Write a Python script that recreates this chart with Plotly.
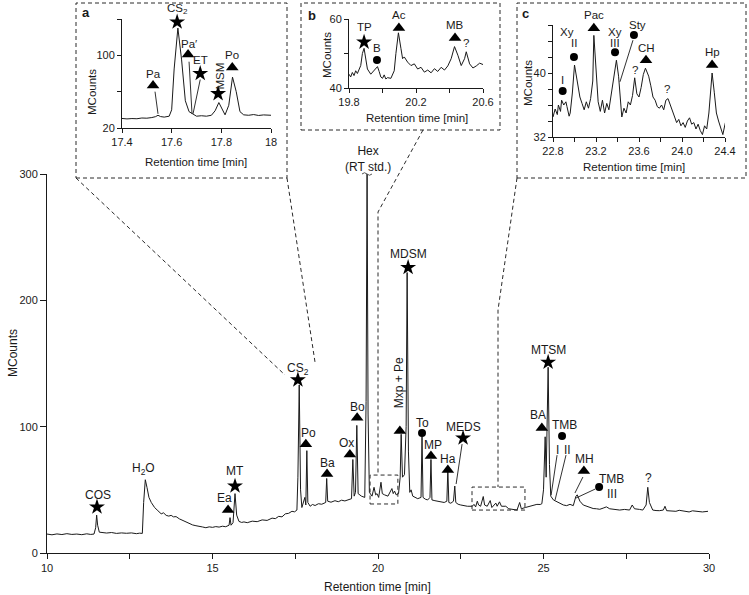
import plotly.graph_objects as go

W, H = 749, 595
FONT = "Liberation Sans, Arial, Helvetica, sans-serif"
INK = "#1a1a1a"

# ---------------- data ----------------
main_time = [
    10.00, 10.15, 10.30, 10.45, 10.60, 10.75, 10.90, 11.05, 11.20, 11.32,
    11.42, 11.47, 11.50, 11.53, 11.58, 11.70, 11.80, 11.95, 12.10, 12.25,
    12.40, 12.55, 12.70, 12.80, 12.88, 12.92, 12.97, 13.02, 13.08, 13.15,
    13.25, 13.35, 13.45, 13.52, 13.60, 13.68, 13.75, 13.82, 13.90, 14.00,
    14.10, 14.20, 14.30, 14.40, 14.50, 14.60, 14.70, 14.80, 14.90, 15.00,
    15.10, 15.20, 15.30, 15.40, 15.50, 15.53, 15.56, 15.62, 15.68, 15.73,
    15.80, 15.88, 15.95, 16.05, 16.20, 16.35, 16.50, 16.65, 16.80, 16.90,
    17.00, 17.10, 17.20, 17.30, 17.40, 17.48, 17.55, 17.58, 17.62, 17.66,
    17.70, 17.79, 17.82, 17.85, 17.88, 17.95, 18.02, 18.10, 18.20, 18.30,
    18.42, 18.45, 18.48, 18.58, 18.70, 18.80, 18.90, 19.00, 19.10, 19.20,
    19.24, 19.28, 19.32, 19.36, 19.40, 19.50, 19.60, 19.64, 19.67, 19.70,
    19.74, 19.82, 19.88, 19.93, 19.97, 20.02, 20.09, 20.13, 20.20, 20.30,
    20.42, 20.46, 20.50, 20.55, 20.62, 20.67, 20.70, 20.74, 20.80, 20.85,
    20.88, 20.92, 20.96, 21.00, 21.05, 21.12, 21.20, 21.30, 21.33, 21.36,
    21.43, 21.50, 21.57, 21.60, 21.63, 21.72, 21.80, 21.90, 22.00, 22.08,
    22.11, 22.14, 22.20, 22.28, 22.32, 22.35, 22.42, 22.50, 22.60, 22.70,
    22.85, 22.90, 22.95, 23.00, 23.04, 23.10, 23.18, 23.22, 23.30, 23.39,
    23.44, 23.56, 23.60, 23.67, 23.73, 23.86, 23.95, 24.10, 24.20, 24.28,
    24.33, 24.45, 24.60, 24.70, 24.80, 24.90, 24.95, 25.00, 25.05, 25.08,
    25.14, 25.18, 25.22, 25.30, 25.40, 25.50, 25.60, 25.70, 25.80, 25.90,
    25.98, 26.02, 26.10, 26.20, 26.30, 26.40, 26.50, 26.60, 26.70, 26.80,
    26.90, 27.00, 27.15, 27.30, 27.45, 27.60, 27.68, 27.75, 27.90, 28.00,
    28.10, 28.15, 28.20, 28.30, 28.40, 28.50, 28.62, 28.67, 28.72, 28.85,
    29.00, 29.10, 29.20, 29.30, 29.40, 29.50, 29.60, 29.70, 29.80, 29.97]
main_signal = [
    15.0, 14.4, 15.1, 14.6, 15.3, 14.7, 15.0, 14.5, 15.2, 14.7,
    15.0, 20.0, 30.0, 22.0, 16.5, 16.3, 15.8, 16.2, 15.5, 15.9,
    15.6, 15.9, 15.3, 15.7, 15.5, 40.0, 58.0, 52.0, 44.0, 40.0,
    36.0, 33.5, 31.0, 31.8, 29.8, 29.2, 29.8, 28.6, 28.8, 27.0,
    25.8, 24.6, 23.0, 22.2, 21.6, 20.8, 20.6, 20.0, 20.7, 20.3,
    20.9, 20.5, 21.2, 20.8, 22.0, 28.0, 22.0, 24.0, 47.0, 30.0,
    25.0, 24.2, 24.6, 24.0, 25.2, 24.8, 26.2, 25.8, 27.6, 27.2,
    29.0, 28.6, 31.0, 31.4, 33.0, 32.6, 34.0, 60.0, 133.0, 50.0,
    36.0, 44.0, 38.0, 81.0, 40.0, 37.0, 38.4, 37.6, 39.0, 38.6,
    40.0, 59.0, 41.0, 40.2, 41.4, 40.6, 41.8, 41.2, 42.4, 43.0,
    74.0, 45.0, 48.0, 101.0, 47.0, 45.0, 44.0, 120.0, 300.0, 110.0,
    48.0, 45.0, 52.0, 46.0, 47.0, 44.0, 56.0, 47.0, 46.0, 45.0,
    51.0, 47.0, 49.0, 46.0, 47.0, 60.0, 94.0, 60.0, 62.0, 100.0,
    222.0, 80.0, 48.0, 50.0, 45.0, 44.2, 43.0, 44.0, 92.0, 44.0,
    42.6, 42.0, 44.0, 74.0, 42.0, 41.4, 41.0, 40.2, 40.0, 41.0,
    66.0, 40.0, 39.4, 41.0, 53.0, 40.0, 38.6, 38.0, 37.2, 37.0,
    37.0, 38.5, 36.5, 41.0, 38.0, 37.0, 44.7, 38.0, 37.0, 41.5,
    36.0, 39.5, 37.0, 40.5, 37.0, 37.0, 35.0, 34.5, 34.0, 40.0,
    35.0, 36.0, 37.0, 37.4, 38.5, 38.4, 39.0, 50.0, 92.0, 60.0,
    147.0, 70.0, 45.0, 42.0, 40.5, 39.0, 38.0, 37.5, 38.5, 37.5,
    45.0, 46.0, 41.0, 38.0, 37.0, 36.0, 35.2, 35.0, 34.6, 35.5,
    36.5, 35.0, 34.6, 34.0, 34.5, 34.0, 38.0, 35.0, 34.5, 34.0,
    38.0, 52.0, 40.0, 34.0, 33.6, 33.5, 34.0, 37.0, 33.5, 33.2,
    33.0, 33.8, 33.5, 32.8, 32.5, 33.4, 33.0, 32.6, 32.5, 33.0]

a_time = [
    17.40, 17.42, 17.44, 17.46, 17.48, 17.50, 17.52, 17.535, 17.545, 17.555,
    17.57, 17.59, 17.60, 17.61, 17.625, 17.64, 17.655, 17.67, 17.685, 17.70,
    17.72, 17.74, 17.76, 17.775, 17.79, 17.80, 17.815, 17.83, 17.845, 17.86,
    17.875, 17.89, 17.91, 17.93, 17.95, 17.97, 18.00]
a_signal = [
    30.5, 30.0, 30.4, 30.2, 31.0, 30.8, 31.5, 32.5, 34.0, 32.6,
    32.0, 33.0, 40.0, 85.0, 130.0, 95.0, 50.0, 38.0, 35.5, 33.0,
    33.5, 33.0, 34.0, 39.0, 48.0, 42.0, 34.5, 45.0, 76.0, 60.0,
    38.0, 34.5, 34.0, 34.8, 33.8, 34.4, 34.0]

b_time = [
    19.80, 19.81, 19.82, 19.83, 19.84, 19.85, 19.87, 19.88, 19.89, 19.90,
    19.91, 19.93, 19.95, 19.97, 19.98, 19.99, 20.00, 20.01, 20.02, 20.03,
    20.05, 20.07, 20.08, 20.095, 20.11, 20.12, 20.13, 20.15, 20.17, 20.19,
    20.21, 20.23, 20.25, 20.27, 20.29, 20.31, 20.33, 20.35, 20.37, 20.39,
    20.41, 20.43, 20.45, 20.47, 20.49, 20.50, 20.52, 20.54, 20.56, 20.58,
    20.60]
b_signal = [
    44.0, 43.2, 44.5, 43.6, 45.0, 44.2, 46.5, 50.0, 51.5, 48.0,
    45.5, 44.0, 45.2, 46.2, 44.8, 43.2, 42.8, 43.8, 42.6, 43.0,
    42.8, 45.0, 50.0, 56.0, 51.5, 48.5, 49.0, 47.5, 46.5, 47.0,
    45.5, 46.0, 44.6, 45.2, 44.4, 45.6, 44.8, 46.0, 45.2, 46.4,
    48.5, 52.0, 49.5, 46.5, 48.5, 50.5, 47.0, 45.8, 46.4, 47.2,
    46.8]

c_time = [
    22.80, 22.82, 22.84, 22.85, 22.87, 22.88, 22.90, 22.92, 22.93, 22.95,
    22.96, 22.98, 23.00, 23.01, 23.03, 23.05, 23.07, 23.09, 23.11, 23.13,
    23.15, 23.17, 23.18, 23.20, 23.22, 23.24, 23.26, 23.28, 23.30, 23.32,
    23.34, 23.36, 23.38, 23.39, 23.41, 23.43, 23.44, 23.46, 23.48, 23.50,
    23.52, 23.54, 23.56, 23.58, 23.60, 23.62, 23.64, 23.66, 23.67, 23.69,
    23.71, 23.73, 23.75, 23.77, 23.79, 23.81, 23.83, 23.85, 23.87, 23.89,
    23.91, 23.93, 23.95, 23.97, 23.99, 24.01, 24.03, 24.05, 24.07, 24.09,
    24.11, 24.13, 24.15, 24.17, 24.19, 24.21, 24.23, 24.25, 24.27, 24.28,
    24.30, 24.32, 24.34, 24.36, 24.38, 24.40, 24.42]
c_signal = [
    34.5, 35.5, 34.8, 36.0, 35.2, 36.6, 36.0, 36.4, 35.8, 34.6,
    35.0, 37.5, 41.0, 40.2, 38.8, 37.0, 36.2, 35.4, 36.4, 35.6,
    36.8, 39.0, 44.7, 40.0, 36.4, 35.2, 36.6, 35.0, 36.2, 35.4,
    37.2, 38.6, 41.0, 41.6, 39.6, 36.0, 34.5, 35.6, 35.0, 36.4,
    36.0, 37.2, 39.4, 37.4, 37.0, 38.2, 39.8, 40.6, 40.2, 39.6,
    38.4, 37.0, 36.6, 35.8, 35.6, 36.0, 35.4, 36.6, 36.8, 36.0,
    35.2, 34.6, 33.8, 34.2, 33.4, 33.8, 33.2, 34.0, 34.4, 33.6,
    33.8, 33.0, 33.6, 32.8, 32.3, 33.4, 33.0, 35.0, 38.5, 40.0,
    37.6, 35.0, 34.0, 33.2, 32.3, 33.6, 34.6]

# tick values / labels (major = labelled, minor = unlabelled)
main_x_ticks = [10, 15, 20, 25, 30]
main_x_minor = [12.5, 17.5, 22.5, 27.5]
main_y_ticks = [0, 100, 200, 300]
a_x_ticks = [17.4, 17.6, 17.8, 18.0]
a_x_text = ["17.4", "17.6", "17.8", "18"]
a_y_ticks = [20, 100]
a_y_minor = [60, 140]
b_x_ticks = [19.8, 20.2, 20.6]
b_x_minor = [20.0, 20.4]
b_y_ticks = [40, 60]
b_y_minor = [50]
c_x_ticks = [22.8, 23.2, 23.6, 24.0, 24.4]
c_x_text = ["22.8", "23.2", "23.6", "24.0", "24.4"]
c_x_minor = [23.0, 23.4, 23.8, 24.2]
c_y_ticks = [32, 40]
c_y_minor = [34, 36, 38, 42, 44, 46]

# peak markers: (symbol, time, level)
main_marks = [
    ("star", 11.51, 36.4), ("star", 15.68, 53), ("star", 17.58, 137),
    ("star", 20.91, 226), ("star", 22.57, 91), ("star", 25.14, 151),
    ("triangle-up", 15.47, 34), ("triangle-up", 17.82, 86), ("triangle-up", 18.46, 62.5),
    ("triangle-up", 19.15, 78), ("triangle-up", 19.37, 107), ("triangle-up", 20.66, 96.5),
    ("triangle-up", 21.60, 76.7), ("triangle-up", 22.11, 65.7), ("triangle-up", 24.95, 99),
    ("triangle-up", 26.22, 64.9),
    ("circle", 21.33, 95), ("circle", 25.56, 92.6), ("circle", 26.68, 52.2)]
a_marks = [
    ("star", 17.622, 136.7), ("star", 17.715, 80), ("star", 17.787, 57.8),
    ("triangle-up", 17.666, 101), ("triangle-up", 17.844, 86.7), ("triangle-up", 17.525, 66.7)]
b_marks = [
    ("star", 19.89, 53.3), ("circle", 19.967, 48.1),
    ("triangle-up", 20.098, 57.4), ("triangle-up", 20.433, 54.5)]
c_marks = [
    ("triangle-up", 23.18, 45.6), ("triangle-up", 23.665, 41.6), ("triangle-up", 24.28, 41.0),
    ("circle", 22.995, 42.0), ("circle", 22.89, 37.75), ("circle", 23.377, 42.6),
    ("circle", 23.553, 44.75)]

# text labels: (text, time, level)
main_labels = [
    ("COS", 11.53, 45.9), ("H<sub>2</sub>O", 12.93, 66.5), ("Ea", 15.35, 43.5),
    ("MT", 15.68, 65), ("CS<sub>2</sub>", 17.58, 145.6), ("Po", 17.89, 95),
    ("Ba", 18.46, 71.2), ("Ox", 19.06, 87), ("Bo", 19.37, 115.5),
    ("Hex<br>(RT std.)", 19.70, 311.5), ("MDSM", 20.91, 237),
    ("To", 21.33, 103), ("MP", 21.66, 85.4), ("Ha", 22.11, 74.4),
    ("MEDS", 22.57, 99.7), ("BA", 24.83, 109), ("MTSM", 25.14, 160.6),
    ("TMB", 25.62, 101), ("I", 25.41, 81.5), ("II", 25.71, 81.5),
    ("MH", 26.25, 74.4), ("TMB", 27.04, 58.5), ("III", 27.07, 46.7), ("?", 28.16, 59.3)]
a_labels = [
    ("CS<sub>2</sub>", 17.622, 151), ("Pa′", 17.668, 113), ("ET", 17.715, 94.4),
    ("Po", 17.844, 100), ("Pa", 17.525, 79)]
b_labels = [
    ("TP", 19.89, 57.7), ("B", 19.967, 51.6), ("Ac", 20.098, 61.2),
    ("MB", 20.433, 58.3), ("?", 20.50, 53.0)]
c_labels = [
    ("Pac", 23.18, 47.25), ("Xy", 22.93, 45.1), ("II", 22.995, 43.75),
    ("I", 22.89, 39.1), ("Xy", 23.377, 45.1), ("III", 23.377, 43.75),
    ("Sty", 23.59, 46.0), ("CH", 23.674, 43.1), ("?", 23.563, 40.4),
    ("?", 23.86, 38.0), ("Hp", 24.28, 42.6)]

# leader lines: (t0, v0, t1, v1)
main_leaders = [
    (22.54, 86.2, 22.36, 54.6), (25.41, 77.5, 25.23, 45.9), (25.68, 77.5, 25.35, 42.0),
    (26.19, 60.1, 25.95, 47.5), (26.56, 50.6, 25.98, 43.5)]
a_leaders = [
    (17.533, 60, 17.545, 35.6), (17.67, 93, 17.682, 35.6), (17.715, 73.3, 17.686, 35.6)]
c_leaders = [(23.544, 44.1, 23.423, 38.9)]

# ---------------- figure ----------------
def px(x):
    return x / W

def py(y):
    return 1 - y / H

# panel geometry in pixels: (x_left, x_right, y_bottom, y_top), axis ranges
PANELS = {
    "": dict(pix=(47, 709, 553, 174), xr=(10, 30), yr=(0, 300)),
    "2": dict(pix=(122, 271, 128, 19), xr=(17.4, 18.0), yr=(20, 140)),
    "3": dict(pix=(349, 483, 88, 19), xr=(19.8, 20.6), yr=(40, 60)),
    "4": dict(pix=(553, 725, 137, 25), xr=(22.8, 24.4), yr=(32, 46)),
}

fig = go.Figure()

def add_trace(t, v, k):
    fig.add_trace(go.Scatter(x=t, y=v, mode="lines", xaxis="x" + k, yaxis="y" + k,
                             line=dict(color=INK, width=1), showlegend=False,
                             hoverinfo="skip"))

def add_marks(marks, k):
    sizes = {"star": 12, "triangle-up": 11, "circle": 8}
    fig.add_trace(go.Scatter(
        x=[m[1] for m in marks], y=[m[2] for m in marks], mode="markers",
        xaxis="x" + k, yaxis="y" + k, cliponaxis=False, showlegend=False, hoverinfo="skip",
        marker=dict(symbol=[m[0] for m in marks], size=[sizes[m[0]] for m in marks],
                    color="black", opacity=1, line=dict(width=0))))

add_trace(main_time, main_signal, "")
add_trace(a_time, a_signal, "2")
add_trace(b_time, b_signal, "3")
add_trace(c_time, c_signal, "4")
add_marks(main_marks, "")
add_marks(a_marks, "2")
add_marks(b_marks, "3")
add_marks(c_marks, "4")

annotations = []
def label(text, x, y, xref, yref, size=12, angle=0, bold=False, yshift=0):
    annotations.append(dict(text=("<b>%s</b>" % text) if bold else text,
                            x=x, y=y, xref=xref, yref=yref, showarrow=False,
                            xanchor="center", yanchor="middle", textangle=angle,
                            yshift=yshift,
                            font=dict(family=FONT, size=size, color=INK)))

def data_label(text, t, v, k, size, angle=0):
    # labels above the axis range are anchored at the top and shifted up in pixels
    p = PANELS[k]
    ymax = p["yr"][1]
    scale = (p["pix"][2] - p["pix"][3]) / (p["yr"][1] - p["yr"][0])
    if v > ymax:
        label(text, t, ymax, "x" + k, "y" + k, size, angle, yshift=(v - ymax) * scale)
    else:
        label(text, t, v, "x" + k, "y" + k, size, angle)

for txt, t, v in main_labels:
    data_label(txt, t, v, "", 12)
for txt, t, v in a_labels:
    data_label(txt, t, v, "2", 11.5)
for txt, t, v in b_labels:
    data_label(txt, t, v, "3", 11.5)
for txt, t, v in c_labels:
    data_label(txt, t, v, "4", 11.5)

data_label("Mxp + Pe", 20.66, 135, "", 12, angle=-90)
data_label("MSM", 17.791, 76.7, "2", 11.5, angle=-90)

# axis titles and panel letters
label("MCounts", px(13), py(353), "paper", "paper", size=12, angle=-90)
label("Retention time [min]", px(378), py(587), "paper", "paper", size=12)
label("MCounts", px(92), py(92), "paper", "paper", size=11.5, angle=-90)
label("Retention time [min]", px(196), py(162), "paper", "paper", size=11.5)
label("MCounts", px(327), py(55), "paper", "paper", size=11.5, angle=-90)
label("Retention time [min]", px(417), py(118), "paper", "paper", size=11.5)
label("MCounts", px(528), py(83), "paper", "paper", size=11.5, angle=-90)
label("Retention time [min]", px(634), py(167), "paper", "paper", size=11.5)
label("a", px(86), py(12), "paper", "paper", size=13, bold=True)
label("b", px(312), py(15), "paper", "paper", size=13, bold=True)
label("c", px(525), py(13), "paper", "paper", size=13, bold=True)

shapes = []
def leader(x0, y0, x1, y1, k):
    shapes.append(dict(type="line", x0=x0, y0=y0, x1=x1, y1=y1, xref="x" + k, yref="y" + k,
                       line=dict(color=INK, width=0.9)))

for l in main_leaders:
    leader(*l, "")
for l in a_leaders:
    leader(*l, "2")
for l in c_leaders:
    leader(*l, "4")

# small wavy "break" mark on top of the truncated Hex peak
wave = [(362, 174), (364.5, 171.5), (367, 174), (369.5, 176.5), (372, 174), (374.5, 171.5)]
d = "M %f,%f" % (px(wave[0][0]), py(wave[0][1]))
for i in range(1, len(wave) - 1, 2):
    d += " Q %f,%f %f,%f" % (px(wave[i][0]), py(wave[i][1]), px(wave[i + 1][0]), py(wave[i + 1][1]))
shapes.append(dict(type="path", path=d, xref="paper", yref="paper",
                   line=dict(color="#555555", width=1)))

DASH = dict(color="#2a2a2a", width=1, dash="4px,3px")
# inset frames
for (x0, y0, x1, y1) in [(76, 3, 287, 178), (301, 3, 500, 130), (517, 3, 746, 178)]:
    shapes.append(dict(type="rect", xref="paper", yref="paper",
                       x0=px(x0), x1=px(x1), y0=py(y1), y1=py(y0), line=DASH))
# zoom regions in the main chromatogram
shapes.append(dict(type="rect", xref="x", yref="y", x0=19.76, x1=20.60, y0=38.8, y1=61.7, line=DASH))
shapes.append(dict(type="rect", xref="x", yref="y", x0=22.84, x1=24.44, y0=34.0, y1=52.2, line=DASH))

def dpath(points):
    dd = "M " + " L ".join("%f,%f" % (px(x), py(y)) for x, y in points)
    shapes.append(dict(type="path", path=dd, xref="paper", yref="paper", line=DASH))

dpath([(76, 178), (285, 375)])
dpath([(287, 178), (315, 362)])
dpath([(423, 130), (378, 212), (378, 475)])
dpath([(517, 178), (498, 310), (498, 487)])

def axis(k, which, tickvals, anchor, ticktext=None, minor=None, ticklen=4):
    p = PANELS[k]
    if which == "x":
        domain = [px(p["pix"][0]), px(p["pix"][1])]
        rng = list(p["xr"])
    else:
        domain = [py(p["pix"][2]), py(p["pix"][3])]
        rng = list(p["yr"])
    ax = dict(domain=domain, range=rng, anchor=anchor, showline=True,
              linecolor=INK, linewidth=1, ticks="outside", ticklen=ticklen,
              tickwidth=1, tickcolor=INK, tickmode="array", tickvals=tickvals,
              showgrid=False, zeroline=False, automargin=False, fixedrange=True,
              tickfont=dict(family=FONT, size=11, color=INK))
    if ticktext is not None:
        ax["ticktext"] = ticktext
    if minor is not None:
        ax["minor"] = dict(tickmode="array", tickvals=minor, ticks="outside",
                           ticklen=ticklen, tickwidth=1, tickcolor=INK, showgrid=False)
    return ax

fig.update_layout(
    width=W, height=H, margin=dict(l=0, r=0, t=0, b=0),
    paper_bgcolor="white", plot_bgcolor="rgba(0,0,0,0)",
    showlegend=False,
    xaxis=axis("", "x", main_x_ticks, "y", minor=main_x_minor, ticklen=5),
    yaxis=axis("", "y", main_y_ticks, "x", ticklen=6),
    xaxis2=axis("2", "x", a_x_ticks, "y2", ticktext=a_x_text),
    yaxis2=axis("2", "y", a_y_ticks, "x2", minor=a_y_minor),
    xaxis3=axis("3", "x", b_x_ticks, "y3", minor=b_x_minor),
    yaxis3=axis("3", "y", b_y_ticks, "x3", minor=b_y_minor),
    xaxis4=axis("4", "x", c_x_ticks, "y4", ticktext=c_x_text, minor=c_x_minor),
    yaxis4=axis("4", "y", c_y_ticks, "x4", minor=c_y_minor),
    annotations=annotations, shapes=shapes,
)

fig.write_html("out.html", config={"displayModeBar": False},
               post_script="document.body.style.margin='0';document.body.style.overflow='hidden';")
